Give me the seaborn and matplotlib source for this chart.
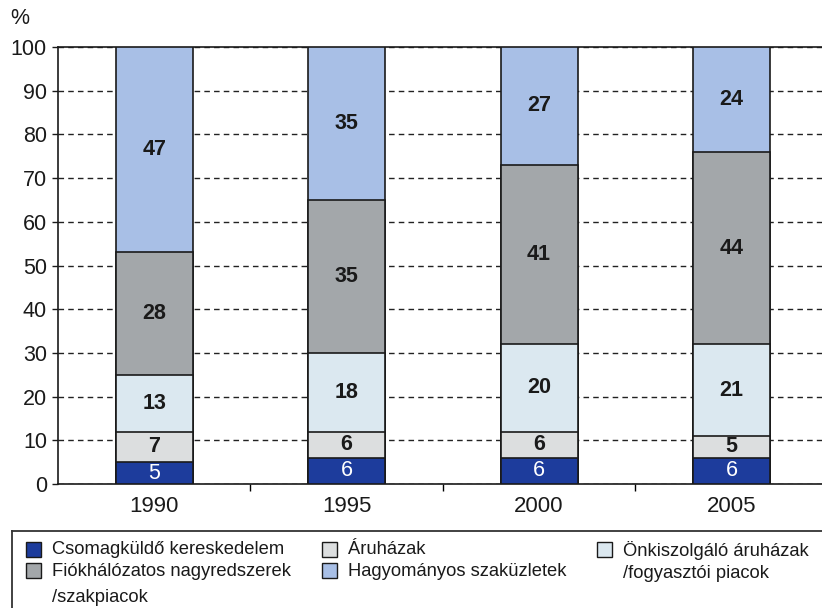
import matplotlib
matplotlib.use("Agg")
import matplotlib.pyplot as plt
import seaborn as sns
import numpy as np
import pandas as pd
from matplotlib.patches import Rectangle
from matplotlib.lines import Line2D

plt.rcParams['font.family'] = ['Liberation Sans', 'DejaVu Sans']

# ---- data ----
years = ["1990", "1995", "2000", "2005"]
csomagkuldo = [5, 6, 6, 6]
aruhazak = [7, 6, 6, 5]
onkiszolgalo = [13, 18, 20, 21]
fiokhalozatos = [28, 35, 41, 44]
hagyomanyos = [47, 35, 27, 24]

names = ["Csomagküldő kereskedelem", "Áruházak",
         "Önkiszolgáló áruházak\n/fogyasztói piacok",
         "Fiókhálózatos nagyredszerek\n/szakpiacok",
         "Hagyományos szaküzletek"]
colors = ["#1d3c9c", "#dcdedf", "#dbe8f0", "#a3a7aa", "#a8bfe6"]
label_colors = ["white", "#1a1a1a", "#1a1a1a", "#1a1a1a", "#1a1a1a"]
label_weights = ["normal", "bold", "bold", "bold", "bold"]

stack = [csomagkuldo, aruhazak, onkiszolgalo, fiokhalozatos, hagyomanyos]

W, H = 822, 608
fig = plt.figure(figsize=(W / 100, H / 100), dpi=100)
ax = fig.add_axes([58 / W, 1 - 484 / H, 1 - 58 / W, (484 - 47) / H])

arr = np.array(stack, dtype=float)
tops = np.cumsum(arr, axis=0)
bottoms = tops - arr

# draw from the tallest cumulative down so lower segments overlay
for i in reversed(range(len(stack))):
    df = pd.DataFrame({"year": years, "val": tops[i]})
    sns.barplot(data=df, x="year", y="val", color=colors[i], saturation=1,
                width=0.4, edgecolor="#1a1a1a", linewidth=1.2,
                errorbar=None, ax=ax, zorder=3)

# value labels
for i in range(len(stack)):
    for j in range(len(years)):
        ax.text(j, bottoms[i, j] + arr[i, j] / 2, f"{int(arr[i, j])}",
                ha="center", va="center", fontsize=15.5,
                color=label_colors[i], fontweight=label_weights[i], zorder=5)

ax.set_xlim(-0.5, 3.47)
ax.set_ylim(0, 100)
ax.set_yticks(np.arange(0, 101, 10))
ax.tick_params(axis="y", labelsize=15.5, length=4, width=1, pad=4, colors="#1a1a1a")
ax.set_xticks(range(len(years)), years)
ax.tick_params(axis="x", which="major", length=0, labelsize=16, pad=9, colors="#1a1a1a")
ax.set_xticks([0.5, 1.5, 2.5], minor=True)
ax.tick_params(axis="x", which="minor", length=5, width=1, direction="out")
ax.set_xlabel("")
ax.set_ylabel("")

ax.set_axisbelow(True)
ax.xaxis.grid(False)
ax.yaxis.grid(True, linestyle=(0, (4, 3)), color="#222222", linewidth=1.0)
for s in ["left", "bottom", "top"]:
    ax.spines[s].set_visible(True)
    ax.spines[s].set_color("#1a1a1a")
    ax.spines[s].set_linewidth(1.2)
ax.spines["right"].set_visible(False)

fig.text(20 / W, 1 - 18 / H, "%", ha="center", va="center", fontsize=15.5, color="#1a1a1a")

# ---- legend (manual) ----
def px(x, y):
    return x / W, 1 - y / H

fig.add_artist(Line2D([12 / W, 1.0], [1 - 531 / H, 1 - 531 / H], transform=fig.transFigure,
                      color="#333333", lw=1.3))
fig.add_artist(Line2D([12 / W, 12 / W], [1 - 531 / H, 0], transform=fig.transFigure,
                      color="#333333", lw=1.3))

legend_pos = {0: (26, 542), 1: (322, 542), 2: (597, 542), 3: (26, 563), 4: (322, 563)}
for i, (sx, sy) in legend_pos.items():
    fig.add_artist(Rectangle(px(sx, sy + 15), 15 / W, 15 / H, transform=fig.transFigure,
                             facecolor=colors[i], edgecolor="#1a1a1a", lw=1.0))
    lines = names[i].split("\n")
    step = 27 if i == 3 else 23
    for k, ln in enumerate(lines):
        fig.text((sx + 26) / W, 1 - (sy + 8 + k * step) / H, ln, ha="left", va="center",
                 fontsize=13.2, color="#1a1a1a")

fig.savefig("out.png", dpi=100)
